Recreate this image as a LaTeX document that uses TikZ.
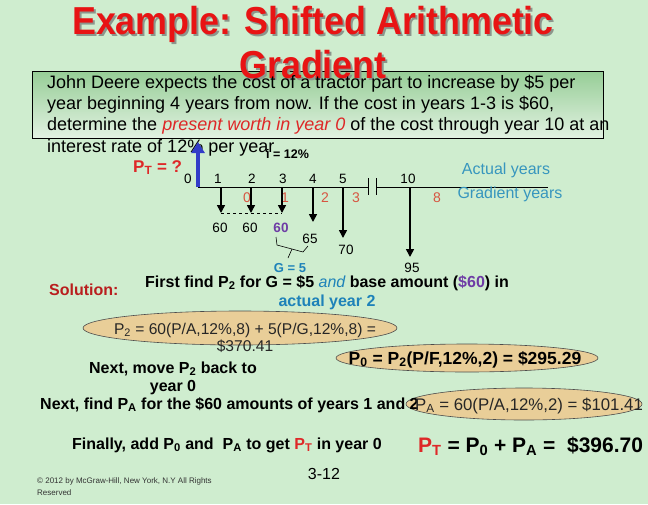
\documentclass[tikz,border=0pt]{standalone}
\usepackage{fontspec}
\setmainfont{Liberation Sans}
\usetikzlibrary{arrows.meta,shapes.geometric}
\definecolor{bg}{RGB}{207,237,207}
\definecolor{titlered}{RGB}{232,20,20}
\definecolor{shadowgray}{RGB}{140,150,140}
\definecolor{boxtop}{RGB}{150,205,150}
\definecolor{boxbot}{RGB}{226,242,226}
\definecolor{hired}{RGB}{222,40,40}
\definecolor{upblue}{RGB}{50,60,200}
\definecolor{gyred}{RGB}{215,85,65}
\definecolor{purp}{RGB}{110,60,165}
\definecolor{tealb}{RGB}{30,130,185}
\definecolor{actb}{RGB}{55,150,190}
\definecolor{solred}{RGB}{185,30,30}
\definecolor{tan}{RGB}{233,206,152}
\newcommand\fsz[1]{\fontsize{#1}{#1}\selectfont}
\newcommand\ttlbox[1]{\scalebox{0.92}[1]{#1}}
\begin{document}
\begin{tikzpicture}[x=1pt,y=-1pt,
  txt/.style={inner sep=0pt,anchor=base west},
  ctxt/.style={inner sep=0pt,anchor=base},
  downarr/.style={line width=1.6pt,-{Triangle[length=8pt,width=8pt]}},
  ell/.style={ellipse,draw=black!70,line width=0.6pt,fill=tan,inner sep=0pt},
  yr/.style={inner sep=0pt,font=\fsz{13.5}},
  gy/.style={inner sep=0pt,font=\fsz{14},text=gyred},
  val/.style={inner sep=0pt,font=\fsz{13.5}}]
\useasboundingbox (0,0) rectangle (648,504);
\fill[bg] (0,0) rectangle (648,504);
% problem box
\shade[top color=boxtop,bottom color=boxbot] (32,71) rectangle (603,138);
\draw[line width=0.6pt] (32,71) rectangle (603,138);
% title
\node[ctxt,text=shadowgray,font=\fsz{39}\bfseries] (t1s) at (315,36) {\ttlbox{Example: Shifted Arithmetic}};
\node[ctxt,text=titlered,font=\fsz{39}\bfseries] (t1) at (313,34) {\ttlbox{Example: Shifted Arithmetic}};
\node[ctxt,text=shadowgray,font=\fsz{39}\bfseries] (t2s) at (315,80) {\ttlbox{Gradient}};
\node[ctxt,text=titlered,font=\fsz{39}\bfseries] (t2) at (313,78) {\ttlbox{Gradient}};
% problem text
\node[txt,font=\fsz{18}] (p1) at (47,88) {John Deere expects the cost of a tractor part to increase by \$5 per};
\node[txt,font=\fsz{18}] (p2) at (47,109) {year beginning 4 years from now. If the cost in years 1-3 is \$60,};
\node[txt,font=\fsz{18}] (p3) at (47,130) {determine the \textcolor{hired}{\itshape present worth in year 0} of the cost through year 10 at an};
\node[txt,font=\fsz{18}] (p4) at (47,152) {interest rate of 12\% per year};
\node[txt,font=\fsz{12.5}\bfseries] (irate) at (266,158) {i = 12\%};
% cash flow diagram
\coordinate (o) at (198,187);
\coordinate (b1) at (368,187);
\coordinate (b2) at (376,187);
\coordinate (axend) at (548,187);
\draw[line width=0.8pt] (o) -- (b1);
\draw[line width=0.8pt] (b2) -- (axend);
\draw[line width=0.8pt] (368,178) -- (368,195);
\draw[line width=0.8pt] (376,178) -- (376,195);
\coordinate (uptop) at (198,142);
\draw[upblue,line width=4pt,-{Triangle[length=11pt,width=13pt]}] (o) -- (uptop);
\node[txt,text=hired,font=\fsz{17}\bfseries] (pt) at (133,172) {P\textsubscript{T} = ?};
% year labels
\node[yr] (y0) at (188,179) {0};
\node[yr] (y1) at (218,179) {1};
\node[yr] (y2) at (252,179) {2};
\node[yr] (y3) at (283,179) {3};
\node[yr] (y4) at (313,179) {4};
\node[yr] (y5) at (343,179) {5};
\node[yr] (y10) at (408,179) {10};
% gradient years
\node[gy] (g0) at (247,198) {0};
\node[gy] (g1) at (285,198) {1};
\node[gy] (g2) at (325,198) {2};
\node[gy] (g3) at (356,198) {3};
\node[gy] (g8) at (437,198) {8};
\node[inner sep=0pt,font=\fsz{16},text=actb] (act) at (506,170) {Actual years};
\node[inner sep=0pt,font=\fsz{16},text=actb] (grad) at (510,194) {Gradient years};
% cash flow arrows
\coordinate (a1s) at (221,187); \coordinate (a1e) at (221,213);
\coordinate (a2s) at (251,187); \coordinate (a2e) at (251,213);
\coordinate (a3s) at (282,187); \coordinate (a3e) at (282,213);
\coordinate (a4s) at (313,187); \coordinate (a4e) at (313,222);
\coordinate (a5s) at (343,187); \coordinate (a5e) at (343,238);
\coordinate (a10s) at (410,187); \coordinate (a10e) at (410,257);
\draw[downarr] (a1s) -- (a1e);
\draw[downarr] (a2s) -- (a2e);
\draw[downarr] (a3s) -- (a3e);
\draw[downarr] (a4s) -- (a4e);
\draw[downarr] (a5s) -- (a5e);
\draw[downarr] (a10s) -- (a10e);
\draw[dashed,line width=0.6pt] (a1e) -- (a3e);
\node[val] (v1) at (220,228) {60};
\node[val] (v2) at (250,228) {60};
\node[val,text=purp,font=\fsz{13.5}\bfseries] (v3) at (281,228) {60};
\node[val] (v4) at (310,239) {65};
\node[val] (v5) at (346,250) {70};
\node[val] (v10) at (412,268) {95};
% brace
\draw[line width=0.6pt] (276,237) -- (277,245) -- (303,252) -- (308,246);
\draw[line width=0.6pt] (292,249) -- (288,258);
\node[inner sep=0pt,text=tealb,font=\fsz{13}\bfseries] (gl) at (290,268) {G = 5};
% solution
\node[txt,text=solred,font=\fsz{16}\bfseries] (sol) at (49,295) {Solution:};
\node[txt,font=\fsz{16}\bfseries] (ff) at (145,287) {First find P\textsubscript{2} for G = \$5 \textcolor{tealb}{\normalfont\itshape and} base amount (\textcolor{purp}{\$60}) in};
\node[ctxt,text=tealb,font=\fsz{16}\bfseries] (ay) at (327,306) {actual year 2};
\node[ell,minimum width=314pt,minimum height=34pt] (e1) at (240,328) {};
\node[ell,minimum width=262pt,minimum height=28pt] (e2) at (467,358) {};
\node[ell,minimum width=236pt,minimum height=32pt] (e3) at (524,404) {};
\node[ctxt,font=\fsz{15.6},text=black!85] (e1a) at (245,334) {P\textsubscript{2} = 60(P/A,12\%,8) + 5(P/G,12\%,8) =};
\node[ctxt,font=\fsz{15.6},text=black!85] (e1b) at (245,351) {\$370.41};
\node[ctxt,font=\fsz{17.5}\bfseries] (e2t) at (465,364) {P\textsubscript{0} = P\textsubscript{2}(P/F,12\%,2) = \$295.29};
\node[ctxt,font=\fsz{16}\bfseries] (nm1) at (173,373) {Next, move P\textsubscript{2} back to};
\node[ctxt,font=\fsz{16}\bfseries] (nm2) at (173,391) {year 0};
\node[txt,font=\fsz{16}\bfseries] (nf) at (40,409) {Next, find P\textsubscript{A} for the \$60 amounts of years 1 and 2};
\node[ctxt,font=\fsz{16.8},text=black!85] (e3t) at (529,410) {P\textsubscript{A} = 60(P/A,12\%,2) = \$101.41};
\node[txt,font=\fsz{16}\bfseries] (fin) at (72,449) {Finally, add P\textsubscript{0} and\ \ P\textsubscript{A} to get \textcolor{hired}{P\textsubscript{T}} in year 0};
\node[txt,font=\fsz{21}\bfseries] (ptot) at (418,452) {\textcolor{hired}{P\textsubscript{T}} = P\textsubscript{0} + P\textsubscript{A} =\ \ \$396.70};
\node[ctxt,font=\fsz{16}] (pg) at (324,479) {3-12};
\node[txt,font=\fsz{8},text=black!80] (cr1) at (37,483) {© 2012 by McGraw-Hill, New York, N.Y All Rights};
\node[txt,font=\fsz{8},text=black!80] (cr2) at (37,495) {Reserved};
\end{tikzpicture}
\end{document}
